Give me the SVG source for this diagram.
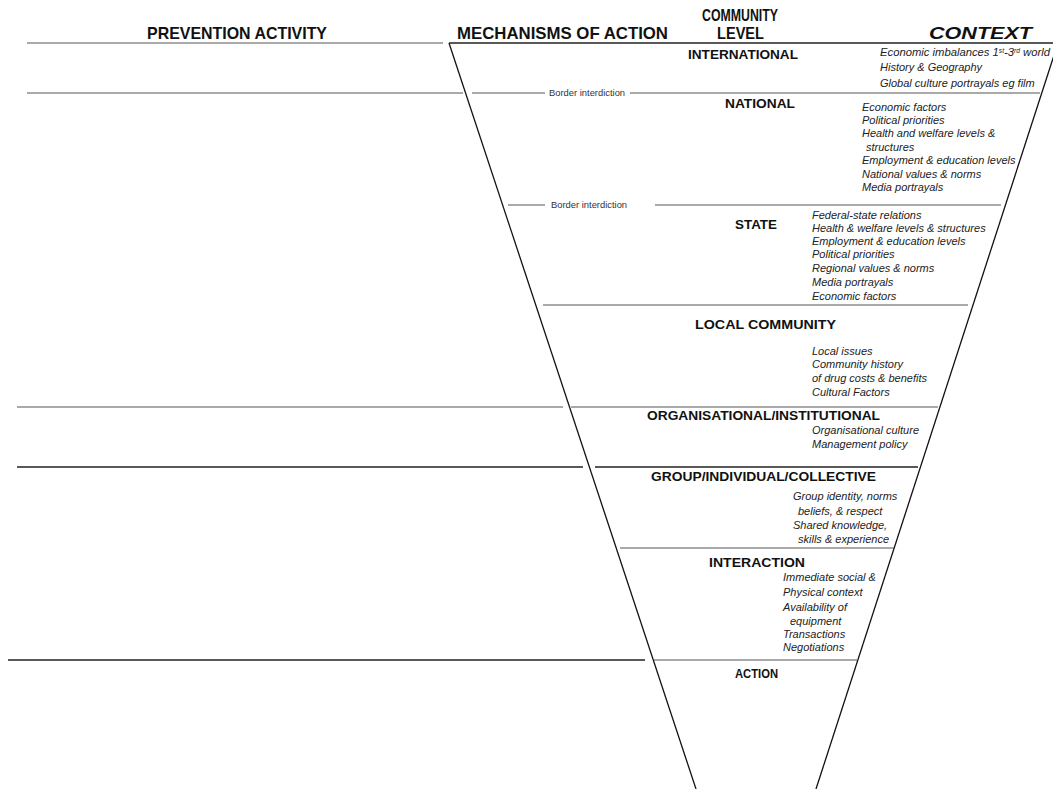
<svg xmlns="http://www.w3.org/2000/svg" width="1053" height="789" viewBox="0 0 1053 789">
<style>
.hdr{font-family:"Liberation Sans",Arial,sans-serif;font-weight:bold;font-size:17px;fill:#111}
.lvl{font-family:"Liberation Sans",Arial,sans-serif;font-weight:bold;font-size:12.5px;fill:#111}
.ctx{font-family:"Liberation Sans",Arial,sans-serif;font-style:italic;font-size:11px;fill:#222}
.bi{font-family:"Liberation Sans",Arial,sans-serif;font-size:9.4px;fill:#333}
.ln{stroke:#555;stroke-width:1.2;fill:none}
.lk{stroke:#222;stroke-width:1.4;fill:none}
.fn{stroke:#111;stroke-width:1.3;fill:none}
</style>
<rect width="1053" height="789" fill="#fff"/>
<g id="headers">
<text class="hdr" x="147" y="39" textLength="180" lengthAdjust="spacingAndGlyphs">PREVENTION ACTIVITY</text>
<text class="hdr" x="457" y="39" textLength="211" lengthAdjust="spacingAndGlyphs">MECHANISMS OF ACTION</text>
<text class="hdr" font-size="15" x="702" y="21" textLength="76" lengthAdjust="spacingAndGlyphs">COMMUNITY</text>
<text class="hdr" font-size="15" x="717" y="39" textLength="47" lengthAdjust="spacingAndGlyphs">LEVEL</text>
<text class="hdr" x="929" y="39" font-style="italic" textLength="103" lengthAdjust="spacingAndGlyphs">CONTEXT</text>
</g>
<g id="funnel">
<line class="fn" x1="449" y1="43" x2="696" y2="789"/>
<line class="fn" x1="1058" y1="43" x2="816" y2="789"/>
</g>
<g id="connectors">
<line class="ln" x1="27" y1="43" x2="443" y2="43"/>
<line class="lk" x1="449" y1="43" x2="1053" y2="43"/>
<line class="ln" x1="27" y1="93" x2="463" y2="93"/>
<line class="ln" x1="472" y1="93" x2="545" y2="93"/>
<line class="ln" x1="630" y1="93" x2="1040" y2="93"/>
<line class="ln" x1="508" y1="205" x2="545" y2="205"/>
<line class="ln" x1="655" y1="205" x2="1001" y2="205"/>
<line class="ln" x1="543" y1="305" x2="968" y2="305"/>
<line class="ln" x1="17" y1="407" x2="563" y2="407"/>
<line class="ln" x1="571" y1="407" x2="938" y2="407"/>
<line class="lk" x1="17" y1="467" x2="583" y2="467"/>
<line class="lk" x1="595" y1="467" x2="918" y2="467"/>
<line class="ln" x1="620" y1="548" x2="894" y2="548"/>
<line class="lk" x1="8" y1="660" x2="645" y2="660"/>
<line class="ln" x1="654" y1="660" x2="857" y2="660"/>
<text class="bi" x="549" y="96">Border interdiction</text>
<text class="bi" x="551" y="208">Border interdiction</text>
</g>
<g id="international">
<text class="lvl" x="688" y="59" textLength="110" lengthAdjust="spacingAndGlyphs">INTERNATIONAL</text>
<text class="ctx" x="880" y="56" textLength="170" lengthAdjust="spacingAndGlyphs">Economic imbalances 1<tspan font-size="6.5" dy="-3">st</tspan><tspan dy="3">-3</tspan><tspan font-size="6.5" dy="-3">rd</tspan><tspan dy="3"> world</tspan></text>
<text class="ctx" x="880" y="71">History &amp; Geography</text>
<text class="ctx" x="880" y="87">Global culture portrayals eg film</text>
</g>
<g id="national">
<text class="lvl" x="725" y="108" textLength="70" lengthAdjust="spacingAndGlyphs">NATIONAL</text>
<text class="ctx" x="862" y="111">Economic factors</text>
<text class="ctx" x="862" y="124">Political priorities</text>
<text class="ctx" x="862" y="137">Health and welfare levels &amp;</text>
<text class="ctx" x="866" y="151">structures</text>
<text class="ctx" x="862" y="164">Employment &amp; education levels</text>
<text class="ctx" x="862" y="178">National values &amp; norms</text>
<text class="ctx" x="862" y="191">Media portrayals</text>
</g>
<g id="state">
<text class="lvl" x="735" y="229" textLength="42" lengthAdjust="spacingAndGlyphs">STATE</text>
<text class="ctx" x="812" y="219">Federal-state relations</text>
<text class="ctx" x="812" y="232">Health &amp; welfare levels &amp; structures</text>
<text class="ctx" x="812" y="245">Employment &amp; education levels</text>
<text class="ctx" x="812" y="258">Political priorities</text>
<text class="ctx" x="812" y="272">Regional values &amp; norms</text>
<text class="ctx" x="812" y="286">Media portrayals</text>
<text class="ctx" x="812" y="300">Economic factors</text>
</g>
<g id="local-community">
<text class="lvl" x="695" y="329" textLength="141" lengthAdjust="spacingAndGlyphs">LOCAL COMMUNITY</text>
<text class="ctx" x="812" y="355">Local issues</text>
<text class="ctx" x="812" y="368">Community history</text>
<text class="ctx" x="812" y="382">of drug costs &amp; benefits</text>
<text class="ctx" x="812" y="396">Cultural Factors</text>
</g>
<g id="organisational">
<text class="lvl" x="647" y="420" textLength="233" lengthAdjust="spacingAndGlyphs">ORGANISATIONAL/INSTITUTIONAL</text>
<text class="ctx" x="812" y="434">Organisational culture</text>
<text class="ctx" x="812" y="448">Management policy</text>
</g>
<g id="group">
<text class="lvl" x="651" y="481" textLength="225" lengthAdjust="spacingAndGlyphs">GROUP/INDIVIDUAL/COLLECTIVE</text>
<text class="ctx" x="793" y="500">Group identity, norms</text>
<text class="ctx" x="798" y="515">beliefs, &amp; respect</text>
<text class="ctx" x="793" y="529">Shared knowledge,</text>
<text class="ctx" x="798" y="543">skills &amp; experience</text>
</g>
<g id="interaction">
<text class="lvl" x="709" y="567" textLength="96" lengthAdjust="spacingAndGlyphs">INTERACTION</text>
<text class="ctx" x="783" y="581">Immediate social &amp;</text>
<text class="ctx" x="783" y="596">Physical context</text>
<text class="ctx" x="783" y="611">Availability of</text>
<text class="ctx" x="790" y="625">equipment</text>
<text class="ctx" x="783" y="638">Transactions</text>
<text class="ctx" x="783" y="651">Negotiations</text>
</g>
<g id="action">
<text class="lvl" x="735" y="678" font-size="9.5" textLength="43" lengthAdjust="spacingAndGlyphs">ACTION</text>
</g>
</svg>
